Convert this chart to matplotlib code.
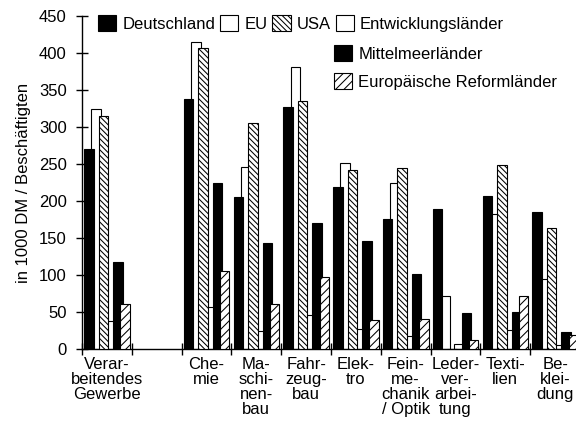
import numpy as np
import matplotlib.pyplot as plt

plt.rcParams['font.family'] = ['Liberation Sans', 'DejaVu Sans']
plt.rcParams['hatch.linewidth'] = 0.75

# Branchen (slot 1 bleibt leer)
categories = ["Verar-\nbeitendes\nGewerbe", "Che-\nmie", "Ma-\nschi-\nnen-\nbau",
              "Fahr-\nzeug-\nbau", "Elek-\ntro", "Fein-\nme-\nchanik\n/ Optik",
              "Leder-\nver-\narbei-\ntung", "Texti-\nlien", "Be-\nklei-\ndung"]

deutschland = [270, 338, 205, 327, 219, 176, 189, 207, 185]
eu = [325, 415, 246, 381, 251, 224, 71, 183, 95]
usa = [315, 407, 305, 335, 242, 245, 0, 249, 164]
entwicklung = [38, 57, 24, 46, 27, 18, 7, 26, 6]
mittelmeer = [117, 224, 143, 170, 146, 101, 48, 50, 23]
reform = [61, 105, 61, 97, 39, 40, 12, 71, 19]

series = [
    ("Deutschland", deutschland, dict(facecolor='black', edgecolor='black'), 3),
    ("EU", eu, dict(facecolor='white', edgecolor='black'), 1),
    ("USA", usa, dict(facecolor='white', edgecolor='black', hatch='\\\\\\\\\\\\'), 3),
    ("Entwicklungsländer", entwicklung, dict(facecolor='white', edgecolor='black'), 1),
    ("Mittelmeerländer", mittelmeer, dict(facecolor='black', edgecolor='black'), 3),
    ("Europäische Reformländer", reform, dict(facecolor='white', edgecolor='black', hatch='////'), 3),
]

fs = 12

fig = plt.figure(figsize=(5.76, 4.22), dpi=100)
ax = fig.add_axes([82 / 576, 1 - 349 / 422, 494 / 576, 333 / 422])

slots = np.array([0] + list(range(2, 2 + len(categories) - 1)), dtype=float)
step = 0.145
width = 0.19

for i, (name, vals, style, z) in enumerate(series):
    x = slots + 0.14 + i * step
    ax.bar(x, vals, width=width, linewidth=0.8, zorder=z, label=name, **style)

ax.set_xlim(0, 9.92)
ax.set_ylim(0, 450)
ax.set_yticks(np.arange(0, 451, 50))

ax.set_xticks(np.arange(0, 10))
ax.set_xticklabels([])
ax.set_xticks(slots + 0.5, categories, minor=True)

ax.tick_params(axis='both', which='major', direction='inout', length=8, width=1,
               labelsize=fs, colors='black')
ax.tick_params(axis='y', pad=7)
ax.tick_params(axis='x', which='minor', length=0, pad=6, labelsize=fs)
for t in ax.get_xticklabels(minor=True):
    t.set_linespacing(1.0)

for s in ['top', 'right']:
    ax.spines[s].set_visible(False)
ax.spines['left'].set_linewidth(1)
ax.spines['bottom'].set_linewidth(1)

ax.set_ylabel("in 1000 DM / Beschäftigten", fontsize=fs, labelpad=6)

handles, labels = ax.get_legend_handles_labels()
leg1 = ax.legend(handles[:4], labels[:4], ncol=4, loc='upper left',
                 bbox_to_anchor=(98 / 576, 1 - 15 / 422), bbox_transform=fig.transFigure,
                 frameon=False, fontsize=fs, borderpad=0, borderaxespad=0,
                 handlelength=1.1, handleheight=1.1, handletextpad=0.35, columnspacing=0.3)
ax.add_artist(leg1)
ax.legend(handles[4:], labels[4:], ncol=1, loc='upper left',
          bbox_to_anchor=(334 / 576, 1 - 45 / 422), bbox_transform=fig.transFigure,
          frameon=False, fontsize=fs, borderpad=0, borderaxespad=0,
          handlelength=1.1, handleheight=1.1, handletextpad=0.35, labelspacing=0.7)

fig.savefig("out.png", dpi=100)
